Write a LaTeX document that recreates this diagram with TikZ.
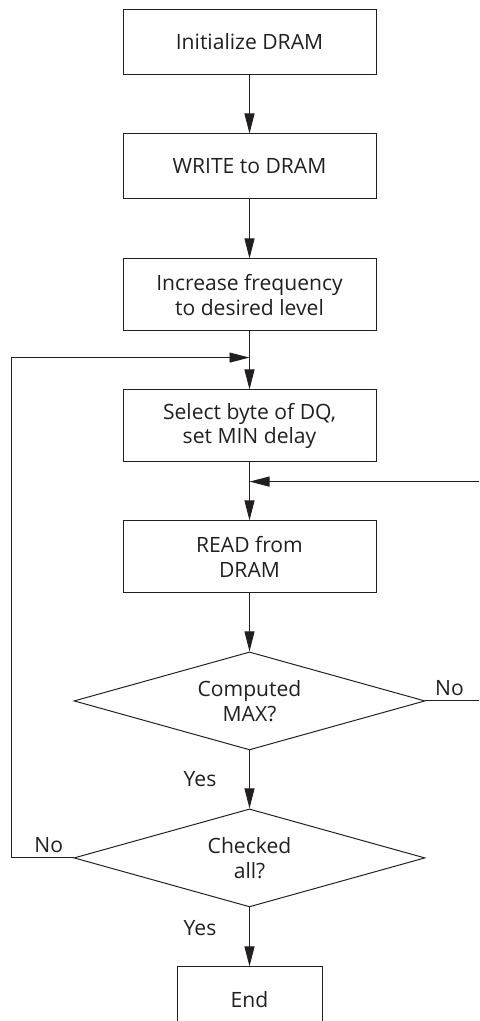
\documentclass[tikz,border=0pt]{standalone}
\usepackage{fontspec}
\setmainfont{Open Sans}
\usepackage{tikz}
\usetikzlibrary{shapes.geometric,arrows.meta}
\usetikzlibrary{positioning,calc}
\definecolor{ink}{HTML}{231F20}
\tikzstyle{block} = [rectangle, draw, minimum width=6.325cm, minimum height=1.625cm]
\tikzstyle{decision} = [diamond, draw, aspect=3.6, minimum width=8.775cm, minimum height=2.45cm, inner sep=0pt]

\begin{document}
\begin{tikzpicture}[every text node part/.style={align=center}, font=\fontsize{15}{17.7}\selectfont, color=ink, line width=0.7pt, >={Triangle[length=0.5cm,width=0.25cm]}]
   \useasboundingbox (0,0) rectangle (11.975,-25.525);
   \clip (0,0) rectangle (11.975,-25.525);
   % Place nodes
   \node [block] (init) at (6.2375,-1.0375) {Initialize DRAM};
   \node [block, below = 1.475 cm of init] (write) {WRITE to DRAM};
   \node [block, below = 1.475 cm of write, minimum height=1.8cm] (incr) {Increase frequency \\ to desired level};
   \node [block, below = 1.45 cm of incr, minimum height=1.8cm] (select) {Select byte of DQ, \\ set MIN delay};
   \node [block, below = 1.45 cm of select, minimum height=1.8cm] (read) {READ from \\ DRAM};
   \node [decision, below = 1.45 cm of read] (max) {Computed \\ MAX?};
   \node [decision, below = 1.45 cm of max] (all) {Checked \\ all?};
   \node [block, below = 1.475 cm of all, minimum width=3.625cm] (end) {End};
   \coordinate (j1) at ($(incr.south)!0.45!(select.north)$);
   \coordinate (j2) at ($(select.south)!0.33!(read.north)$);
   \draw[->] (init) to (write);
   \draw[->] (write) to (incr);
   \draw[->] (incr) to (select);
   \draw[->] (select) to (read);
   \draw[->] (read) to (max);
   \draw[->] (max) to node [left=0.7cm] {Yes} (all);
   \draw[->] (all) to node [left=0.7cm, pos=0.35] {Yes} (end);
   \draw[->] (max.east) -- node [above, pos=0.4] {No} ++(1.5,0) |- (j2);
   \draw[->] (all.west) -- node [above, pos=0.4] {No} ++(-1.55,0) |- (j1);
\end{tikzpicture}
\end{document}
